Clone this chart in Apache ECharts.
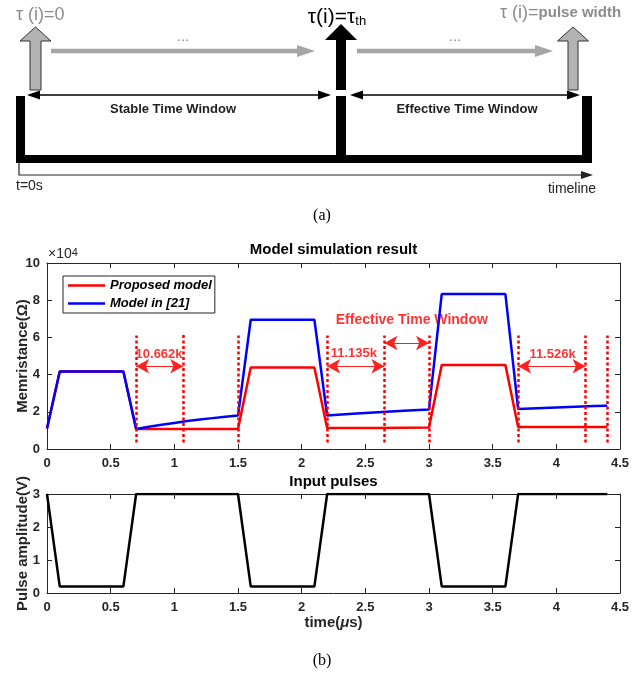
<!DOCTYPE html>
<html>
<head>
<meta charset="utf-8">
<script src="https://cdn.jsdelivr.net/npm/echarts@6/dist/echarts.min.js"></script>
<style>
html, body { margin: 0; padding: 0; background: #fff; }
#main { width: 644px; height: 675px; }
</style>
</head>
<body>
<div id="main"></div>
<script>
// time samples (us) and memristance values (x10^4 ohm)
var timeUs = [0, 0.1, 0.6, 0.7, 0.8, 0.9, 1.0, 1.1, 1.2, 1.3, 1.4, 1.5, 1.6, 2.1, 2.2, 2.4, 2.6, 2.8, 3.0, 3.1, 3.6, 3.7, 3.9, 4.1, 4.3, 4.4];
var proposedModel = [1.1, 4.17, 4.17, 1.07, 1.07, 1.07, 1.07, 1.07, 1.08, 1.08, 1.08, 1.08, 4.38, 4.38, 1.13, 1.13, 1.13, 1.14, 1.15, 4.52, 4.52, 1.18, 1.18, 1.18, 1.18, 1.18];
var model21 = [1.1, 4.17, 4.17, 1.07, 1.2, 1.3, 1.4, 1.5, 1.58, 1.66, 1.73, 1.8, 6.95, 6.95, 1.8, 1.9, 1.98, 2.06, 2.13, 8.33, 8.33, 2.15, 2.21, 2.26, 2.31, 2.33];

// input pulse train
var pulseTime = [0, 0.1, 0.6, 0.7, 1.5, 1.6, 2.1, 2.2, 3.0, 3.1, 3.6, 3.7, 4.4];
var pulseAmp = [3, 0.2, 0.2, 3, 3, 0.2, 0.2, 3, 3, 0.2, 0.2, 3, 3];

// dotted window markers
var windowX = [0.7, 1.07, 1.5, 2.2, 2.65, 3.0, 3.7, 4.23, 4.4];
var windowTop = [6.1, 6.25, 6.1, 6.1, 6.1, 6.1, 6.1, 6.1, 6.1];
var windowBottom = 0.35;

// double arrows between markers
var spanFrom = [0.7, 2.2, 2.65, 3.7];
var spanTo = [1.07, 2.65, 3.0, 4.23];
var spanY = [4.45, 4.45, 5.7, 4.45];

// red annotations
var noteText = ['10.662k', '11.135k', '11.526k', 'Effective Time Window'];
var noteX = [0.88, 2.41, 3.97, 2.865];
var noteY = [5.1, 5.15, 5.1, 6.93];

var fam = '"Liberation Sans", Arial, sans-serif';
var serif = '"Liberation Serif", "Times New Roman", serif';
var axisColor = '#262626';
var grayFill = '#b3b3b3';
var grayLine = '#a6a6a6';

function upArrow(cx, shaftHalf, headHalf, tipY, baseY, bottomY) {
  return [[cx - shaftHalf, bottomY], [cx - shaftHalf, baseY], [cx - headHalf, baseY], [cx, tipY],
          [cx + headHalf, baseY], [cx + shaftHalf, baseY], [cx + shaftHalf, bottomY]];
}

function txt(x, y, text, font, fill, align) {
  return {
    type: 'text', x: x, y: y, silent: true,
    style: { text: text, font: font, fill: fill || '#111', align: align || 'center', textAlign: align || 'center', verticalAlign: 'middle', textVerticalAlign: 'middle' }
  };
}

// part (a) diagram
var diagram = [
  { type: 'polygon', shape: { points: upArrow(35.5, 5.5, 15.5, 27, 41, 90) }, style: { fill: grayFill, stroke: '#333', lineWidth: 1 } },
  { type: 'polygon', shape: { points: upArrow(573, 5, 15.5, 27, 41, 90) }, style: { fill: grayFill, stroke: '#333', lineWidth: 1 } },
  { type: 'polygon', shape: { points: upArrow(341, 5, 16, 24, 40, 90) }, style: { fill: '#000' } },
  { type: 'line', shape: { x1: 51, y1: 51, x2: 300, y2: 51 }, style: { stroke: grayLine, lineWidth: 4.5 } },
  { type: 'polygon', shape: { points: [[297, 45], [315, 51], [297, 57]] }, style: { fill: grayLine } },
  { type: 'line', shape: { x1: 357, y1: 51, x2: 537, y2: 51 }, style: { stroke: grayLine, lineWidth: 4.5 } },
  { type: 'polygon', shape: { points: [[535, 45], [553, 51], [535, 57]] }, style: { fill: grayLine } },
  { type: 'rect', shape: { x: 16, y: 96, width: 9, height: 67 }, style: { fill: '#000' } },
  { type: 'rect', shape: { x: 582, y: 96, width: 10, height: 67 }, style: { fill: '#000' } },
  { type: 'rect', shape: { x: 16, y: 155, width: 576, height: 8 }, style: { fill: '#000' } },
  { type: 'rect', shape: { x: 336, y: 96, width: 10, height: 60 }, style: { fill: '#000' } },
  { type: 'line', shape: { x1: 30, y1: 95, x2: 328, y2: 95 }, style: { stroke: '#000', lineWidth: 1.3 } },
  { type: 'polygon', shape: { points: [[27, 95], [40, 90.5], [40, 99.5]] }, style: { fill: '#000' } },
  { type: 'polygon', shape: { points: [[331, 95], [318, 90.5], [318, 99.5]] }, style: { fill: '#000' } },
  { type: 'line', shape: { x1: 353, y1: 95, x2: 577, y2: 95 }, style: { stroke: '#000', lineWidth: 1.3 } },
  { type: 'polygon', shape: { points: [[350, 95], [363, 90.5], [363, 99.5]] }, style: { fill: '#000' } },
  { type: 'polygon', shape: { points: [[580, 95], [567, 90.5], [567, 99.5]] }, style: { fill: '#000' } },
  { type: 'polyline', shape: { points: [[19, 163], [19, 175], [584, 175]] }, style: { stroke: '#222', lineWidth: 1.2, fill: null } },
  { type: 'polygon', shape: { points: [[581, 171], [593, 175], [581, 179]] }, style: { fill: '#222' } },
  txt(16, 15, 'τ (i)=0', '18px ' + fam, '#8c8c8c', 'left'),
  txt(183, 37, '...', '15px ' + fam, '#8c8c8c'),
  txt(455, 37, '...', '15px ' + fam, '#8c8c8c'),
  {
    type: 'text', x: 337, y: 17, silent: true,
    style: {
      text: '{a|τ(i)=τ}{b|th}', align: 'center', textAlign: 'center', verticalAlign: 'middle', textVerticalAlign: 'middle', fill: '#000',
      rich: { a: { font: '21px ' + fam, fill: '#000' }, b: { font: '13px ' + fam, fill: '#000', verticalAlign: 'bottom' } }
    }
  },
  {
    type: 'text', x: 500, y: 13, silent: true,
    style: {
      text: '{a|τ (i)=}{b|pulse width}', align: 'left', textAlign: 'left', verticalAlign: 'middle', textVerticalAlign: 'middle', fill: '#8c8c8c',
      rich: { a: { font: '18px ' + fam, fill: '#8c8c8c' }, b: { font: 'bold 15px ' + fam, fill: '#8c8c8c' } }
    }
  },
  txt(173, 109, 'Stable Time Window', 'bold 13px ' + fam, '#222'),
  txt(467, 109, 'Effective Time Window', 'bold 13px ' + fam, '#222'),
  txt(16, 186, 't=0s', '14px ' + fam, '#222', 'left'),
  txt(572, 189, 'timeline', '14px ' + fam, '#222'),
  txt(322, 216, '(a)', '16px ' + serif, '#000'),
  txt(333.5, 250, 'Model simulation result', 'bold 15px ' + fam, '#000'),
  {
    type: 'text', x: 48, y: 254, silent: true,
    style: {
      text: '{a|×10}{b|4}', align: 'left', textAlign: 'left', verticalAlign: 'middle', textVerticalAlign: 'middle', fill: axisColor,
      rich: { a: { font: '14px ' + fam, fill: axisColor }, b: { font: '11px ' + fam, fill: axisColor, verticalAlign: 'top' } }
    }
  },
  txt(333.5, 482, 'Input pulses', 'bold 15px ' + fam, '#000'),
  txt(322, 661, '(b)', '16px ' + serif, '#000')
];

var tickLabel = { show: true, color: axisColor, fontSize: 13, fontWeight: 'bold', fontFamily: fam };

function xAx(grid, pos, withLabel) {
  return {
    type: 'value', gridIndex: grid, position: pos, min: 0, max: 4.5, interval: 0.5,
    axisLine: { show: true, onZero: false, lineStyle: { color: axisColor, width: 1 } },
    axisTick: { show: true, inside: true, length: 5, lineStyle: { color: axisColor } },
    axisLabel: withLabel ? Object.assign({ margin: 8 }, tickLabel) : { show: false },
    splitLine: { show: false }
  };
}
function yAx(grid, pos, max, step, withLabel) {
  return {
    type: 'value', gridIndex: grid, position: pos, min: 0, max: max, interval: step,
    axisLine: { show: true, onZero: false, lineStyle: { color: axisColor, width: 1 } },
    axisTick: { show: true, inside: true, length: 5, lineStyle: { color: axisColor } },
    axisLabel: withLabel ? Object.assign({ margin: 7 }, tickLabel) : { show: false },
    splitLine: { show: false }
  };
}

var xAxes = [xAx(0, 'bottom', true), xAx(0, 'top', false), xAx(1, 'bottom', true), xAx(1, 'top', false)];
xAxes[2].name = 'time({i|μ}s)';
xAxes[2].nameLocation = 'middle';
xAxes[2].nameGap = 22;
xAxes[2].nameMoveOverlap = false;
xAxes[2].nameTextStyle = {
  color: axisColor, fontSize: 15, fontWeight: 'bold', fontFamily: fam,
  rich: { i: { color: axisColor, fontSize: 15, fontWeight: 'bold', fontStyle: 'italic', fontFamily: fam } }
};

var yAxes = [yAx(0, 'left', 10, 2, true), yAx(0, 'right', 10, 2, false), yAx(1, 'left', 3, 1, true), yAx(1, 'right', 3, 1, false)];
var yName = { color: axisColor, fontSize: 15, fontWeight: 'bold', fontFamily: fam };
[0, 2].forEach(function (k) {
  yAxes[k].nameLocation = 'middle';
  yAxes[k].nameGap = 17;
  yAxes[k].nameMoveOverlap = false;
  yAxes[k].nameTextStyle = yName;
});
yAxes[0].name = 'Memristance(Ω)';
yAxes[2].name = 'Pulse amplitude(V)';

var windowLines = windowX.map(function (x, i) {
  return [{ coord: [x, windowBottom] }, { coord: [x, windowTop[i]] }];
});
var spanLines = spanFrom.map(function (x, i) {
  return [{ coord: [x, spanY[i]] }, { coord: [spanTo[i], spanY[i]] }];
});

var chart = echarts.init(document.getElementById('main'), null, { renderer: 'canvas' });
chart.setOption({
  animation: false,
  backgroundColor: '#fff',
  grid: [
    { left: 47, top: 263, width: 573, height: 186, outerBoundsMode: 'none' },
    { left: 47, top: 494, width: 573, height: 99, outerBoundsMode: 'none' }
  ],
  xAxis: xAxes,
  yAxis: yAxes,
  legend: {
    data: ['Proposed model', 'Model in [21]'],
    orient: 'vertical', left: 63, top: 276,
    icon: 'rect', itemWidth: 37, itemHeight: 2.5, itemGap: 5,
    padding: [3, 3, 3, 5],
    borderColor: axisColor, borderWidth: 1, borderRadius: 0, backgroundColor: '#fff',
    textStyle: { color: '#000', fontSize: 13, fontWeight: 'bold', fontStyle: 'italic', fontFamily: fam },
    selectedMode: false
  },
  graphic: { elements: diagram },
  series: [
    {
      name: 'Proposed model', type: 'line', xAxisIndex: 0, yAxisIndex: 0,
      data: timeUs.map(function (t, i) { return [t, proposedModel[i]]; }),
      symbol: 'none', color: '#ff0000', lineStyle: { color: '#ff0000', width: 2.5 },
      markLine: {
        silent: true, symbol: 'none', label: { show: false },
        lineStyle: { color: '#ff0000', width: 2.5, type: [3, 2.5] },
        data: windowLines
      }
    },
    {
      name: 'Model in [21]', type: 'line', xAxisIndex: 0, yAxisIndex: 0,
      data: timeUs.map(function (t, i) { return [t, model21[i]]; }),
      symbol: 'none', color: '#0000ff', lineStyle: { color: '#0000ff', width: 2.5 },
      markLine: {
        silent: true, symbol: ['arrow', 'arrow'], symbolSize: [11, 13], label: { show: false },
        lineStyle: { color: '#ff2020', width: 1.2, type: 'solid' },
        data: spanLines
      }
    },
    {
      name: 'notes', type: 'scatter', xAxisIndex: 0, yAxisIndex: 0, symbolSize: 0, silent: true,
      data: noteText.map(function (s, i) {
        return { name: s, value: [noteX[i], noteY[i]], label: { fontSize: i === 3 ? 14 : 13 } };
      }),
      label: { show: true, position: 'inside', formatter: '{b}', color: '#ff0000', fontWeight: 'bold', fontFamily: fam }
    },
    {
      name: 'Input pulses', type: 'line', xAxisIndex: 2, yAxisIndex: 2,
      data: pulseTime.map(function (t, i) { return [t, pulseAmp[i]]; }),
      symbol: 'none', color: '#000', lineStyle: { color: '#000', width: 2.5 }
    }
  ]
});
</script>
</body>
</html>
